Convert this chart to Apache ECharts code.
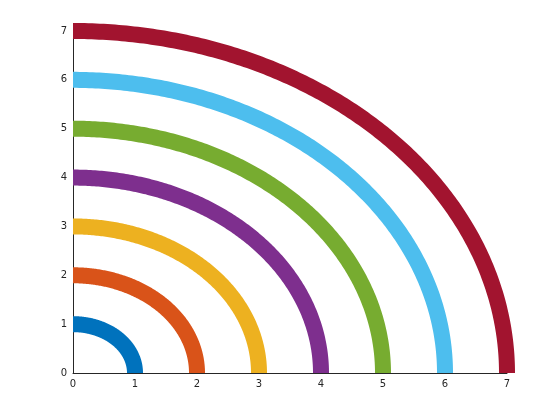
<!DOCTYPE html>
<html><head><meta charset="utf-8">
<script src="https://cdn.jsdelivr.net/npm/echarts@6/dist/echarts.min.js"></script>
<style>html,body{margin:0;padding:0;background:#fff}#c{width:560px;height:420px}</style>
</head><body><div id="c"></div>
<script>
var radii = [1, 2, 3, 4, 5, 6, 7];
var colors = ['#0072BD', '#D95319', '#EDB120', '#7E2F8E', '#77AC30', '#4DBEEE', '#A2142F'];
var xTicks = [0, 1, 2, 3, 4, 5, 6, 7];
var yTicks = [0, 1, 2, 3, 4, 5, 6, 7];

var chart = echarts.init(document.getElementById('c'), null, {renderer: 'canvas'});
function axisCommon(ticks) {
  return {
    type: 'value', min: ticks[0], max: ticks[ticks.length - 1], interval: 1,
    axisLine: {show: true, onZero: false, lineStyle: {color: '#262626', width: 1}},
    axisTick: {show: true, inside: true, length: 5, lineStyle: {color: '#262626'}},
    splitLine: {show: false},
    axisLabel: {color: '#262626', fontSize: 10, fontFamily: 'DejaVu Sans', margin: 6}
  };
}
chart.setOption({
  animation: false,
  grid: {left: 73, top: 31, width: 434, height: 342, containLabel: false},
  xAxis: axisCommon(xTicks),
  yAxis: axisCommon(yTicks),
  series: [{
    type: 'custom',
    clip: false,
    data: radii.map(function (r, i) { return [r, i]; }),
    encode: {x: 0},
    renderItem: function (params, api) {
      var r = api.value(0);
      var idx = api.value(1);
      var pts = [];
      var n = 180;
      for (var k = 0; k <= n; k++) {
        var t = (Math.PI / 2) * k / n;
        pts.push(api.coord([r * Math.cos(t), r * Math.sin(t)]));
      }
      return {
        type: 'polyline',
        shape: {points: pts},
        style: {stroke: colors[idx], lineWidth: 16, fill: null, lineCap: 'butt', lineJoin: 'round'}
      };
    }
  }]
});
</script></body></html>
